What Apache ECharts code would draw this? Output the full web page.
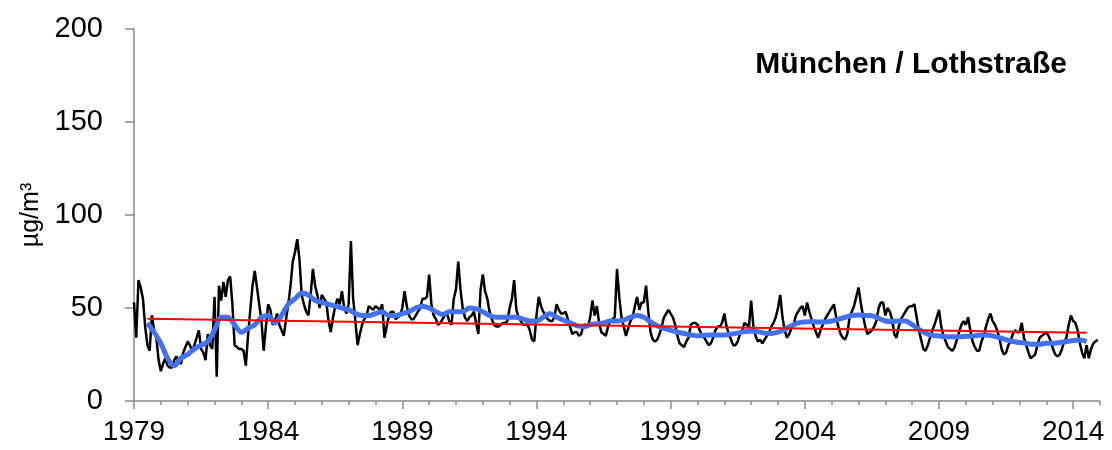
<!DOCTYPE html>
<html>
<head>
<meta charset="utf-8">
<script src="https://cdn.jsdelivr.net/npm/echarts@6/dist/echarts.min.js"></script>
<style>
  html, body { margin: 0; background: #fff; }
  #chart { width: 1112px; height: 450px; }
</style>
</head>
<body>
<div id="chart"></div>
<script>
// Messstation / axis setup
const station = 'München / Lothstraße'
const unit = 'µg/m³'
const firstYear = 1979
const lastYear = 2015
const labelEvery = 5 // years
const yMin = 0
const yMax = 200
const yStep = 50

// monthly means, one row per year (Jan..Dec)
const monthly = [
  53, 34, 65, 61, 55, 40, 30, 27, 46, 38, 34, 22, // 1979
  16, 20, 23, 19, 18, 18, 22, 24, 21, 20, 26, 29, // 1980
  32, 30, 27, 30, 34, 38, 28, 26, 22, 36, 30, 28, // 1981
  56, 13, 62, 54, 64, 56, 65, 67, 52, 30, 29, 28, // 1982
  28, 27, 19, 35, 49, 62, 70, 61, 52, 43, 27, 40, // 1983
  52, 49, 41, 43, 47, 41, 38, 35, 44, 52, 62, 75, // 1984
  80, 87, 76, 57, 52, 48, 46, 57, 71, 62, 57, 50, // 1985
  57, 55, 53, 43, 37, 45, 51, 55, 52, 59, 50, 47, // 1986
  52, 86, 55, 43, 30, 36, 41, 44, 46, 51, 50, 49, // 1987
  51, 50, 49, 52, 34, 40, 46, 48, 48, 44, 45, 46, // 1988
  50, 59, 51, 46, 44, 44, 46, 48, 50, 55, 55, 56, // 1989
  68, 52, 46, 44, 41, 42, 44, 46, 47, 43, 41, 55, // 1990
  60, 75, 60, 50, 45, 43, 45, 46, 48, 42, 36, 60, // 1991
  68, 59, 55, 48, 44, 41, 40, 40, 41, 42, 42, 43, // 1992
  50, 55, 65, 49, 45, 43, 41, 41, 41, 38, 33, 32, // 1993
  46, 56, 51, 48, 46, 44, 43, 43, 45, 52, 49, 47, // 1994
  47, 48, 44, 40, 36, 37, 37, 35, 36, 41, 41, 40, // 1995
  45, 54, 46, 51, 42, 37, 36, 35, 40, 43, 44, 45, // 1996
  71, 56, 45, 40, 35, 39, 43, 45, 51, 56, 49, 53, // 1997
  53, 62, 48, 37, 33, 32, 33, 36, 40, 45, 47, 49, // 1998
  47, 45, 41, 35, 31, 30, 29, 32, 34, 41, 42, 42, // 1999
  41, 38, 35, 34, 32, 30, 31, 34, 38, 40, 40, 42, // 2000
  47, 40, 36, 33, 30, 30, 32, 36, 38, 42, 41, 40, // 2001
  54, 40, 35, 32, 33, 31, 33, 35, 37, 40, 42, 45, // 2002
  50, 57, 45, 38, 34, 36, 39, 41, 46, 48, 50, 51, // 2003
  46, 53, 48, 44, 40, 37, 34, 38, 41, 44, 46, 48, // 2004
  50, 52, 45, 40, 36, 34, 33, 36, 45, 48, 51, 56, // 2005
  61, 53, 46, 40, 36, 37, 38, 40, 43, 50, 53, 53, // 2006
  46, 50, 48, 44, 36, 34, 40, 44, 46, 48, 50, 51, // 2007
  51, 52, 45, 38, 33, 28, 27, 30, 34, 38, 41, 45, // 2008
  49, 40, 35, 32, 29, 28, 27, 29, 33, 37, 41, 43, // 2009
  41, 45, 38, 32, 29, 27, 27, 32, 35, 40, 44, 47, // 2010
  43, 41, 38, 34, 28, 25, 26, 30, 32, 36, 38, 37, // 2011
  37, 42, 34, 30, 26, 23, 24, 25, 30, 34, 35, 36, // 2012
  37, 35, 32, 28, 25, 24, 25, 28, 32, 34, 41, 46, // 2013
  43, 42, 38, 31, 26, 23, 30, 23, 28, 31, 32, 33  // 2014
]

// gleitendes Mittel, read every quarter starting mid 1979
const smoothStart = 6 // month index
const smoothStep = 3
const smoothed = [
  42, 37, // 1979
  31, 23, 19, 23, // 1980
  25, 28, 30, 32,
  38, 45, 45, 41,
  37, 39, 41, 45,
  46, 42, 46, 52,
  55, 58, 57, 54, // 1985
  53, 52, 51, 50,
  49, 47, 46, 46,
  47, 48, 46, 46,
  47, 48, 50, 51,
  50, 48, 46.5, 48, // 1990
  48, 48, 50, 49.5,
  48, 46, 45, 45,
  45, 45, 44, 43,
  43, 45, 47, 45,
  43.5, 42, 40.5, 40, // 1995
  41, 41.5, 42, 43,
  43, 43.5, 45, 46,
  45, 42.5, 40.5, 39,
  38, 37, 36.3, 35.5,
  35, 35.3, 35.5, 35.5, // 2000
  35.5, 36, 36.5, 37.3,
  37.6, 37.3, 36.5, 36.3,
  37, 38.5, 40.5, 42,
  42.5, 42.7, 42.5, 42.5,
  43, 44, 45, 46, // 2005
  46.2, 46, 45.8, 44.5,
  43, 42.7, 43, 43,
  41, 38.5, 36.5, 35.3,
  35, 34.6, 34.6, 34.6,
  34.8, 35, 35.3, 35.5, // 2010
  35, 34, 33, 32,
  31.5, 31, 30.5, 30.5,
  31, 31, 31.5, 32,
  32.5, 32.8, 32 // 2014
]

// linearer Trend
const trendMonths = [6, 426]
const trendValues = [44.2, 36.7]

const months = []
for (let y = firstYear; y < lastYear; y++) {
  for (let m = 1; m <= 12; m++) months.push(y + '-' + m)
}
months.push(lastYear + '-1')

const fontFamily = '"Liberation Sans", Arial, sans-serif'
const axisGrey = '#8a8a8a'

const chart = echarts.init(document.getElementById('chart'))
chart.setOption({
  animation: false,
  title: {
    text: station,
    right: 40,
    top: 45,
    textStyle: { fontFamily, fontSize: 30, fontWeight: 'bold', color: '#000' }
  },
  grid: { left: 134, right: 12, top: 29, bottom: 49 },
  xAxis: [
    {
      type: 'category',
      data: months,
      boundaryGap: false,
      axisLine: { lineStyle: { color: axisGrey, width: 1.5 } },
      axisTick: { length: 4, interval: (i) => i % 12 === 0, lineStyle: { color: axisGrey, width: 1.5 } },
      axisLabel: { show: false },
      splitLine: { show: false }
    },
    {
      type: 'category',
      data: months,
      boundaryGap: false,
      position: 'bottom',
      axisLine: { show: false },
      axisTick: { length: 8, interval: (i) => i % (12 * labelEvery) === 0, lineStyle: { color: axisGrey, width: 1.5 } },
      axisLabel: {
        interval: (i) => i % (12 * labelEvery) === 0,
        formatter: (v) => v.split('-')[0],
        margin: 17,
        color: '#000',
        fontFamily,
        fontSize: 28
      },
      splitLine: { show: false }
    }
  ],
  yAxis: {
    type: 'value',
    min: yMin,
    max: yMax,
    interval: yStep,
    name: unit,
    nameLocation: 'middle',
    nameGap: 90,
    nameTextStyle: { fontFamily, fontSize: 25, color: '#000' },
    axisLine: { show: true, lineStyle: { color: axisGrey, width: 1.5 } },
    axisTick: { show: true, length: 9, lineStyle: { color: axisGrey, width: 1.5 } },
    axisLabel: { margin: 31, color: '#000', fontFamily, fontSize: 29 },
    splitLine: { show: false }
  },
  series: [
    {
      name: 'Monatsmittel',
      type: 'line',
      data: monthly.map((v, i) => [i, v]),
      showSymbol: false,
      lineStyle: { color: '#000', width: 2.5 },
      z: 2
    },
    {
      name: 'gleitendes Mittel',
      type: 'line',
      data: smoothed.map((v, i) => [smoothStart + i * smoothStep, v]),
      showSymbol: false,
      smooth: 0.3,
      lineStyle: { color: '#4272f0', width: 5 },
      z: 3
    },
    {
      name: 'Trend',
      type: 'line',
      data: trendMonths.map((m, i) => [m, trendValues[i]]),
      showSymbol: false,
      lineStyle: { color: '#ff0000', width: 2 },
      z: 4
    }
  ]
})
</script>
</body>
</html>
